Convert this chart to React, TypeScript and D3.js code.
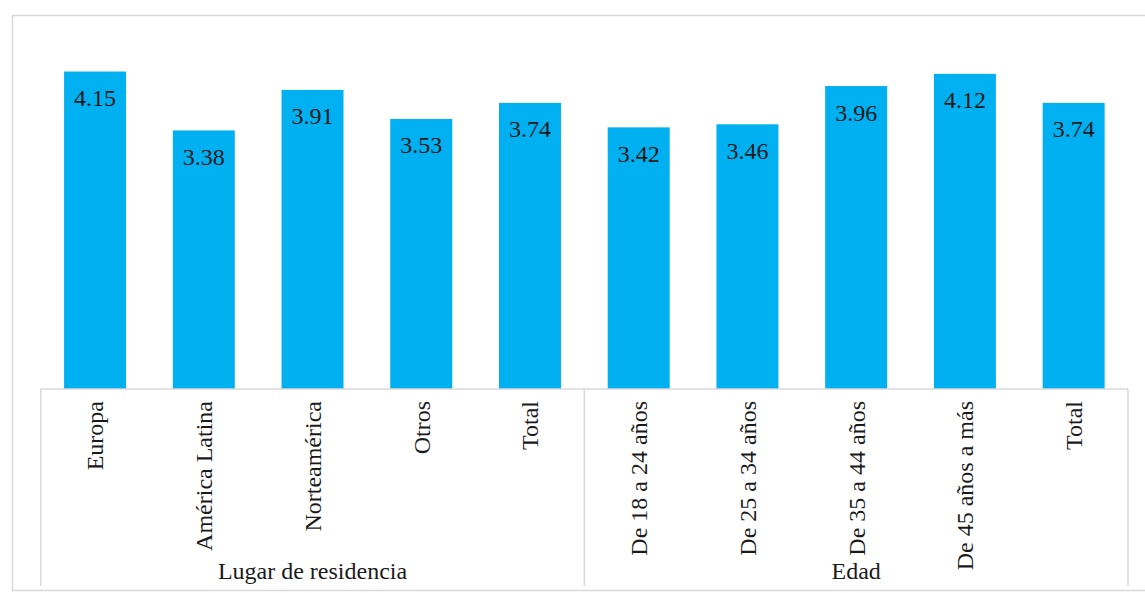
import React from "react";
import * as d3 from "d3";

const categories = [
  "Europa",
  "América Latina",
  "Norteamérica",
  "Otros",
  "Total",
  "De 18 a 24 años",
  "De 25 a 34 años",
  "De 35 a 44 años",
  "De 45 años a más",
  "Total ",
];
const values = [4.15, 3.38, 3.91, 3.53, 3.74, 3.42, 3.46, 3.96, 4.12, 3.74];
const groups = ["Lugar de residencia", "Edad"];
const groupSizes = [5, 5];

const W = 1145;
const H = 593;
const left = 40.7;
const right = 1128;
const baseY = 389;
const topY = 44.75;
const FONT = "'Liberation Serif', 'Times New Roman', serif";

export default function App() {
  const x = d3
    .scaleBand<number>()
    .domain(d3.range(categories.length))
    .range([left, right])
    .paddingInner(0.43)
    .paddingOuter(0.215);
  const y = d3.scaleLinear().domain([0, 4.5]).range([baseY, topY]);
  const step = x.step();

  const groupBounds: { name: string; x0: number; x1: number }[] = [];
  let idx = 0;
  groups.forEach((g, gi) => {
    const x0 = left + idx * step;
    idx += groupSizes[gi];
    const x1 = left + idx * step;
    groupBounds.push({ name: g, x0, x1 });
  });

  return (
    <svg
      width={W}
      height={H}
      style={{ position: "absolute", left: 0, top: 0, background: "#fff" }}
      fontFamily={FONT}
    >
      <rect x={12.5} y={15.5} width={W} height={575} fill="none" stroke="#d9d9d9" strokeWidth={1.5} />
      {values.map((v, i) => (
        <rect key={"b" + i} x={x(i)} y={y(v)} width={x.bandwidth()} height={baseY - y(v)} fill="#00B0F0" />
      ))}
      {values.map((v, i) => (
        <text
          key={"v" + i}
          x={(x(i) as number) + x.bandwidth() / 2}
          y={y(v) + 34.5}
          textAnchor="middle"
          fontSize={24}
          fill="#1a1a1a"
        >
          {v.toFixed(2)}
        </text>
      ))}
      <line x1={left} x2={right} y1={baseY} y2={baseY} stroke="#d9d9d9" strokeWidth={1.5} />
      {[left, ...groupBounds.map((g) => g.x1)].map((gx, i) => (
        <line key={"s" + i} x1={gx} x2={gx} y1={baseY} y2={586} stroke="#d9d9d9" strokeWidth={1.5} />
      ))}
      {categories.map((c, i) => {
        const cx = (x(i) as number) + x.bandwidth() / 2;
        const ty = baseY + 12;
        return (
          <text
            key={"c" + i}
            transform={`translate(${cx},${ty}) rotate(-90)`}
            dy="0.35em"
            textAnchor="end"
            fontSize={24}
            fill="#1a1a1a"
          >
            {c.trim()}
          </text>
        );
      })}
      {groupBounds.map((g, i) => (
        <text
          key={"g" + i}
          x={(g.x0 + g.x1) / 2}
          y={579}
          textAnchor="middle"
          fontSize={24}
          fill="#1a1a1a"
        >
          {g.name}
        </text>
      ))}
    </svg>
  );
}
